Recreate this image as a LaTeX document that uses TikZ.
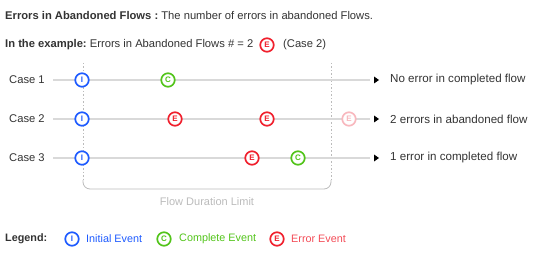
\documentclass[tikz,border=0pt]{standalone}
\usepackage{fontspec}
\setmainfont{Liberation Sans}
\usetikzlibrary{arrows.meta}
\definecolor{txt}{HTML}{333333}
\definecolor{cblue}{HTML}{1E5BFF}
\definecolor{cgreen}{HTML}{52C41A}
\definecolor{cred}{HTML}{F0202D}
\definecolor{cpink}{HTML}{F8B8BE}
\definecolor{lgray}{HTML}{D9D9D9}
\definecolor{mgray}{HTML}{BBBBBB}
\begin{document}
\begin{tikzpicture}[x=1pt,y=-1pt,
  ev/.style={circle,draw=#1,line width=1.7pt,fill=white,minimum size=13.5pt,inner sep=0pt,text=#1,font=\fontsize{8}{8}\selectfont\bfseries},
  lbl/.style={anchor=west,text=txt,font=\fontsize{10.8}{12}\selectfont,inner sep=0pt},
  big/.style={font=\fontsize{11.2}{13}\selectfont},
  res/.style={font=\fontsize{11.6}{13}\selectfont},
  tl/.style={draw=lgray,line width=1.6pt}]
\useasboundingbox (0,0) rectangle (538,259);
% header
\node[lbl,big] (t1) at (5,15) {\textbf{Errors in Abandoned Flows :}\ The number of errors in abandoned Flows.};
\node[lbl,big] (t2a) at (5,45) {\textbf{In the example:}\ Errors in Abandoned Flows \# = 2};
\node[ev=cred] (t2e) at (267,45) {E};
\node[lbl,big] (t2b) at (283,45) {(Case 2)};
% limit bracket
\coordinate (bl) at (83,63);
\coordinate (br) at (331,63);
\draw[mgray,line width=0.7pt,dash pattern=on 1.5pt off 2pt] (bl) -- (83,180);
\draw[mgray,line width=0.7pt,dash pattern=on 1.5pt off 2pt] (br) -- (331,180);
\draw[mgray,line width=0.8pt,rounded corners=7pt] (83,180) -- (83,189) -- (331,189) -- (331,180);
\node[font=\fontsize{11}{13}\selectfont,text=mgray] (fdl) at (207,202) {Flow Duration Limit};
% case labels
\node[lbl,big] (c1) at (9,80) {Case 1};
\node[lbl,big] (c2) at (9,119) {Case 2};
\node[lbl,big] (c3) at (9,158) {Case 3};
% lines
\coordinate (s1) at (53,80); \coordinate (e1) at (370,80);
\coordinate (s2) at (53,119); \coordinate (e2) at (370,119);
\coordinate (s3) at (53,158); \coordinate (e3) at (370,158);
\draw[tl] (s1) -- (e1); \draw[tl] (s2) -- (e2); \draw[tl] (s3) -- (e3);
\fill[black] (374,76.5) -- (379,80) -- (374,83.5) -- cycle;
\fill[black] (374,115.5) -- (379,119) -- (374,122.5) -- cycle;
\fill[black] (374,154.5) -- (379,158) -- (374,161.5) -- cycle;
% events
\node[ev=cblue] (i1) at (82,80) {I};
\node[ev=cgreen] (cc1) at (168,80) {C};
\node[ev=cblue] (i2) at (82,119) {I};
\node[ev=cred] (ea2) at (175,119) {E};
\node[ev=cred] (eb2) at (267,119) {E};
\node[ev=cpink] (ec2) at (349,119) {E};
\node[ev=cblue] (i3) at (82,158) {I};
\node[ev=cred] (ea3) at (252,158) {E};
\node[ev=cgreen] (cc3) at (298,158) {C};
% results
\node[lbl,res] (r1) at (390,80) {No error in completed flow};
\node[lbl,res] (r2) at (390,119) {2 errors in abandoned flow};
\node[lbl,res] (r3) at (390,158) {1 error in completed flow};
% legend
\node[lbl] (lg) at (5,239) {\textbf{Legend:}};
\node[ev=cblue] (li) at (72,239) {I};
\node[lbl,text=cblue] (lit) at (86,239) {Initial Event};
\node[ev=cgreen] (lc) at (164,239) {C};
\node[lbl,text=cgreen] (lct) at (179,239) {Complete Event};
\node[ev=cred] (le) at (277,239) {E};
\node[lbl,text=cred!80] (let) at (291,239) {Error Event};
\end{tikzpicture}
\end{document}
